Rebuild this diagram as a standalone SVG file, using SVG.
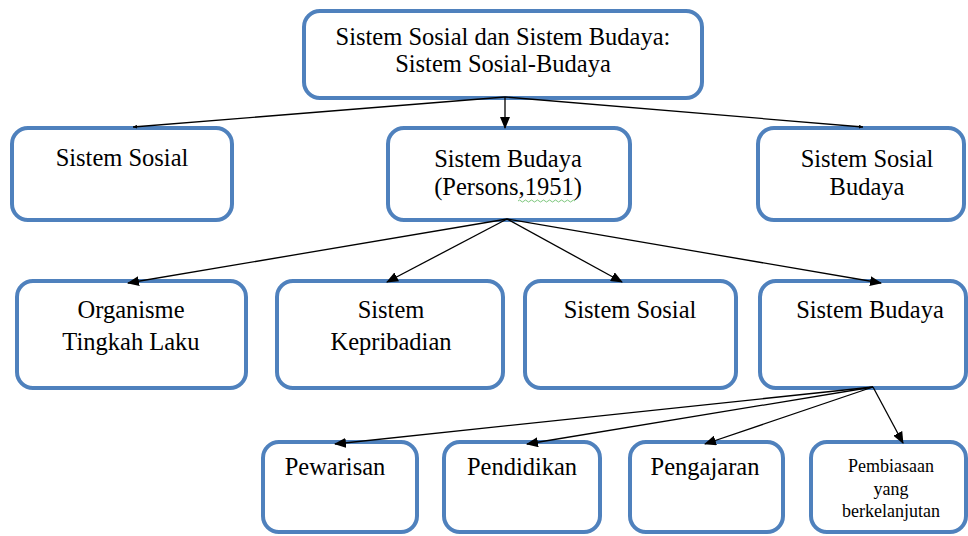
<svg xmlns="http://www.w3.org/2000/svg" width="968" height="536" viewBox="0 0 968 536">
<defs>
<marker id="ah" markerWidth="12" markerHeight="10" refX="11" refY="5" orient="auto" markerUnits="userSpaceOnUse">
<path d="M0,0 L12,5 L0,10 Z" fill="#000"/>
</marker>
<marker id="tick" markerWidth="4" markerHeight="4" refX="4" refY="2" orient="auto" markerUnits="userSpaceOnUse">
<path d="M0,0 L4,2 L0,4 Z" fill="#000"/>
</marker>
<style>
.box{fill:#fff;stroke:#4F81BD;stroke-width:4}
.t{font-family:'Liberation Serif','Times New Roman',serif;font-size:24.5px;fill:#000;text-anchor:middle}
.s{font-size:18px}
.c{stroke:#000;stroke-width:1.3;fill:none}
</style>
</defs>
<rect width="968" height="536" fill="#fff"/>
<g id="root">
<rect class="box" x="304" y="11" width="398" height="87" rx="16"/>
<text class="t" x="503" y="45">Sistem Sosial dan Sistem Budaya:</text>
<text class="t" x="503" y="72">Sistem Sosial-Budaya</text>
</g>
<g id="sistem-sosial-1">
<rect class="box" x="12" y="128" width="220" height="92" rx="16"/>
<text class="t" x="122" y="166">Sistem Sosial</text>
</g>
<g id="sistem-budaya-1">
<rect class="box" x="388" y="128" width="242" height="92" rx="16"/>
<text class="t" x="508" y="167">Sistem Budaya</text>
<text class="t" x="508" y="195">(Persons,1951)</text>
<path d="M518,201 q1.5,-2 3,0 t3,0 t3,0 t3,0 t3,0 t3,0 t3,0 t3,0 t3,0 t3,0 t3,0 t3,0 t3,0 t3,0 t3,0 t3,0 t3,0 t3,0 t3,0" fill="none" stroke="#5cb85c" stroke-width="0.8"/>
</g>
<g id="sistem-sosial-budaya">
<rect class="box" x="758" y="128" width="206" height="92" rx="16"/>
<text class="t" x="867" y="167">Sistem Sosial</text>
<text class="t" x="867" y="195">Budaya</text>
</g>
<g id="organisme">
<rect class="box" x="17" y="281" width="229" height="107" rx="16"/>
<text class="t" x="131" y="318">Organisme</text>
<text class="t" x="131" y="350">Tingkah Laku</text>
</g>
<g id="kepribadian">
<rect class="box" x="277" y="281" width="226" height="107" rx="16"/>
<text class="t" x="391" y="318">Sistem</text>
<text class="t" x="391" y="350">Kepribadian</text>
</g>
<g id="sistem-sosial-2">
<rect class="box" x="525" y="281" width="211" height="107" rx="16"/>
<text class="t" x="630" y="318">Sistem Sosial</text>
</g>
<g id="sistem-budaya-2">
<rect class="box" x="760" y="281" width="206" height="107" rx="16"/>
<text class="t" x="870" y="318">Sistem Budaya</text>
</g>
<g id="pewarisan">
<rect class="box" x="263" y="442" width="154" height="90" rx="16"/>
<text class="t" x="335" y="475">Pewarisan</text>
</g>
<g id="pendidikan">
<rect class="box" x="444" y="442" width="156" height="90" rx="16"/>
<text class="t" x="522" y="475">Pendidikan</text>
</g>
<g id="pengajaran">
<rect class="box" x="630" y="442" width="153" height="90" rx="16"/>
<text class="t" x="705" y="475">Pengajaran</text>
</g>
<g id="pembiasaan">
<rect class="box" x="811" y="442" width="155" height="90" rx="16"/>
<text class="t s" x="891" y="472">Pembiasaan</text>
<text class="t s" x="891" y="495">yang</text>
<text class="t s" x="891" y="517">berkelanjutan</text>
</g>
<g id="connectors">
<line class="c" x1="505" y1="97" x2="505" y2="128" marker-end="url(#ah)"/>
<line class="c" x1="505" y1="97" x2="133" y2="127" marker-end="url(#tick)"/>
<line class="c" x1="505" y1="97" x2="863" y2="127" marker-end="url(#tick)"/>
<line class="c" x1="507" y1="219" x2="128" y2="283" marker-end="url(#ah)"/>
<line class="c" x1="507" y1="219" x2="387" y2="282" marker-end="url(#ah)"/>
<line class="c" x1="507" y1="219" x2="622" y2="282" marker-end="url(#ah)"/>
<line class="c" x1="507" y1="219" x2="881" y2="283" marker-end="url(#ah)"/>
<line class="c" x1="873" y1="387" x2="335" y2="444" marker-end="url(#ah)"/>
<line class="c" x1="873" y1="387" x2="527" y2="444" marker-end="url(#ah)"/>
<line class="c" x1="873" y1="387" x2="705" y2="444" marker-end="url(#ah)"/>
<line class="c" x1="873" y1="387" x2="903" y2="443" marker-end="url(#ah)"/>
</g>
</svg>
